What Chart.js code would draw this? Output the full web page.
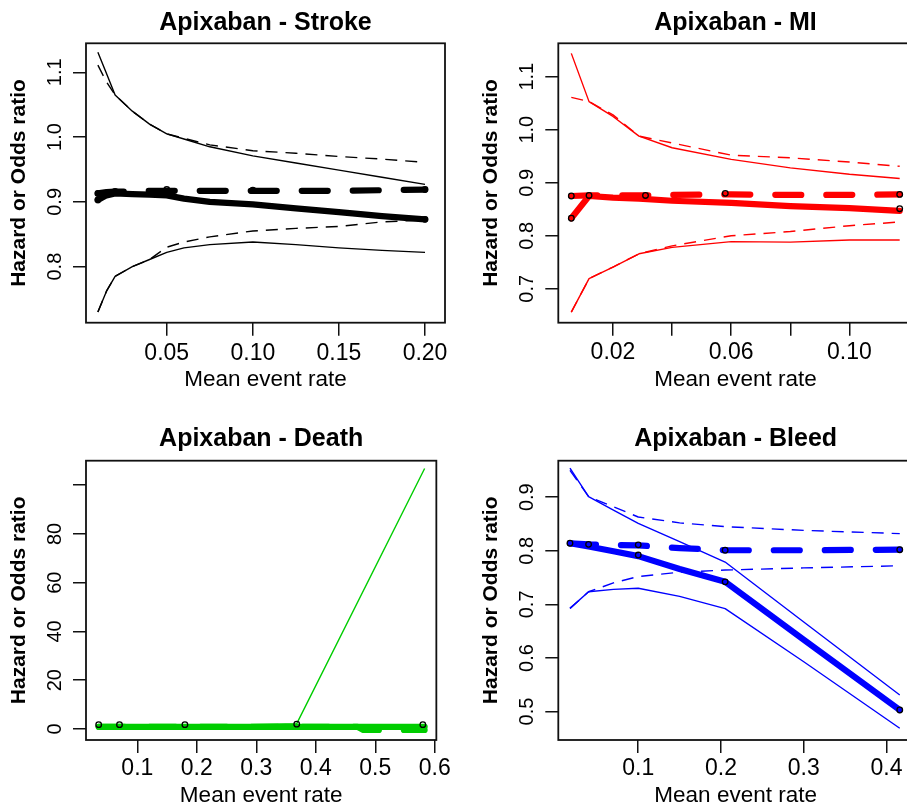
<!DOCTYPE html>
<html>
<head>
<meta charset="utf-8">
<script src="https://cdn.jsdelivr.net/npm/chart.js@4.4.1/dist/chart.umd.min.js"></script>
<style>
html,body{margin:0;padding:0;background:#fff;width:907px;height:808px;overflow:hidden;position:relative}
canvas{position:absolute;display:block}
</style>
</head>
<body>
<canvas id="cStroke"></canvas>
<canvas id="cMI"></canvas>
<canvas id="cDeath"></canvas>
<canvas id="cBleed"></canvas>
<script>
// ---------------- DATA ----------------
// Stroke
const strokeX           = [0.01, 0.015, 0.02, 0.03, 0.04, 0.05, 0.06, 0.075, 0.10, 0.125, 0.15, 0.175, 0.20];
const strokeUpperSolid  = [1.131, 1.098, 1.065, 1.040, 1.020, 1.005, 0.997, 0.985, 0.971, 0.960, 0.949, 0.938, 0.927];
const strokeUpperDashed = [1.111, 1.085, 1.065, 1.040, 1.020, 1.005, 0.998, 0.988, 0.979, 0.975, 0.970, 0.966, 0.961];
const strokeEstimate    = [0.903, 0.910, 0.913, 0.912, 0.911, 0.910, 0.905, 0.900, 0.896, 0.890, 0.884, 0.878, 0.873];
const strokeConstant    = [0.913, 0.915, 0.916, 0.916, 0.917, 0.917, 0.917, 0.917, 0.917, 0.917, 0.917, 0.918, 0.919];
const strokeLowerDashed = [0.730, 0.762, 0.785, 0.800, 0.811, 0.830, 0.838, 0.846, 0.855, 0.859, 0.862, 0.869, 0.872];
const strokeLowerSolid  = [0.730, 0.762, 0.785, 0.800, 0.811, 0.822, 0.829, 0.834, 0.838, 0.834, 0.829, 0.825, 0.822];
const strokeMarkX       = [0.01, 0.01, 0.02, 0.05, 0.10, 0.20, 0.20];
const strokeMarkY       = [0.913, 0.903, 0.916, 0.919, 0.918, 0.919, 0.873];
const strokeXTicks      = [0.05, 0.10, 0.15, 0.20];
const strokeXLabels     = ["0.05", "0.10", "0.15", "0.20"];
const strokeYTicks      = [0.8, 0.9, 1.0, 1.1];
const strokeYLabels     = ["0.8", "0.9", "1.0", "1.1"];

// MI
const miX           = [0.0059, 0.0119, 0.02, 0.0288, 0.04, 0.06, 0.08, 0.10, 0.117];
const miUpperSolid  = [1.144, 1.053, 1.025, 0.988, 0.966, 0.944, 0.928, 0.916, 0.908];
const miUpperDashed = [1.061, 1.053, 1.028, 0.988, 0.975, 0.952, 0.947, 0.939, 0.931];
const miEstimate    = [0.833, 0.875, 0.872, 0.870, 0.866, 0.862, 0.856, 0.852, 0.847];
const miConstant    = [0.875, 0.876, 0.876, 0.876, 0.877, 0.878, 0.877, 0.877, 0.878];
const miLowerDashed = [0.656, 0.719, 0.741, 0.766, 0.781, 0.800, 0.808, 0.819, 0.826];
const miLowerSolid  = [0.656, 0.719, 0.741, 0.766, 0.778, 0.789, 0.788, 0.792, 0.792];
const miMarkX       = [0.0059, 0.0059, 0.0119, 0.031, 0.058, 0.117, 0.117];
const miMarkY       = [0.875, 0.833, 0.876, 0.876, 0.880, 0.878, 0.851];
const miXTicks      = [0.02, 0.04, 0.06, 0.08, 0.10];
const miXLabels     = ["0.02", "", "0.06", "", "0.10"];
const miYTicks      = [0.7, 0.8, 0.9, 1.0, 1.1];
const miYLabels     = ["0.7", "0.8", "0.9", "1.0", "1.1"];

// Death
const deathX           = [0.035, 0.07, 0.18, 0.37, 0.47, 0.48, 0.583];
const deathEstimate    = [0.9, 0.9, 0.9, 0.9, 0.9, 0.9, 0.9];
const deathConstant    = [0.9, 0.9, 0.9, 0.9, 0.9, -0.4, -0.4];
const deathLowerSolid  = [0.7, 0.7, 0.7, 0.7, 0.6, 0.0, 0.0];
const deathLowerDashed = [0.7, 0.7, 0.7, 0.7, 0.6, 0.0, 0.0];
const deathUpperX      = [0.035, 0.18, 0.368, 0.583];
const deathUpperSolid  = [1.2, 1.2, 2.2, 106.8];
const deathUpperDashed = [1.2, 1.2, 1.4, 1.6];
const deathMarkX       = [0.035, 0.07, 0.18, 0.368, 0.58];
const deathMarkY       = [1.8, 1.8, 1.8, 2.0, 1.8];
const deathXTicks      = [0.1, 0.2, 0.3, 0.4, 0.5, 0.6];
const deathXLabels     = ["0.1", "0.2", "0.3", "0.4", "0.5", "0.6"];
const deathYTicks      = [0, 20, 40, 60, 80, 100];
const deathYLabels     = ["0", "20", "40", "60", "80", ""];

// Bleed
const bleedX           = [0.0175, 0.04, 0.07, 0.1, 0.15, 0.205, 0.3, 0.416];
const bleedUpperSolid  = [0.954, 0.901, 0.876, 0.851, 0.817, 0.779, 0.667, 0.531];
const bleedUpperDashed = [0.950, 0.901, 0.882, 0.863, 0.852, 0.845, 0.838, 0.832];
const bleedConstant    = [0.814, 0.812, 0.811, 0.810, 0.805, 0.801, 0.801, 0.802];
const bleedEstimate    = [0.814, 0.808, 0.799, 0.790, 0.766, 0.742, 0.634, 0.503];
const bleedLowerDashed = [0.6925, 0.7235, 0.740, 0.752, 0.760, 0.764, 0.768, 0.772];
const bleedLowerSolid  = [0.6925, 0.7235, 0.728, 0.730, 0.715, 0.692, 0.593, 0.469];
const bleedMarkX       = [0.0175, 0.04, 0.1, 0.1, 0.205, 0.205, 0.416, 0.416];
const bleedMarkY       = [0.814, 0.812, 0.811, 0.792, 0.801, 0.742, 0.802, 0.503];
const bleedXTicks      = [0.1, 0.2, 0.3, 0.4];
const bleedXLabels     = ["0.1", "0.2", "0.3", "0.4"];
const bleedYTicks      = [0.5, 0.6, 0.7, 0.8, 0.9];
const bleedYLabels     = ["0.5", "0.6", "0.7", "0.8", "0.9"];

// ---------------- RENDER ----------------
const FONT = "'Liberation Sans', Arial, Helvetica, sans-serif";
Chart.defaults.font.family = FONT;

function pts(xs, ys) { return xs.map((x, i) => ({ x: x, y: ys[i] })); }

function lineDs(data, color, width, dash, order, cap) {
  return {
    type: 'line', data: data, borderColor: color, borderWidth: width,
    borderDash: dash, borderCapStyle: cap || 'butt', borderJoinStyle: 'round',
    pointRadius: 0, pointHoverRadius: 0, tension: 0, fill: false, order: order
  };
}
function markDs(data) {
  return {
    type: 'line', data: data, showLine: false, pointRadius: 2.8, pointHoverRadius: 2.8,
    pointStyle: 'circle', pointBorderColor: '#000', pointBackgroundColor: 'rgba(0,0,0,0)',
    pointBorderWidth: 1.3, order: 0
  };
}

const THIN = 1.4, THICK = 6.2;
const THIN_DASH = [12, 8], THICK_DASH = [26, 25];

const panels = [
  { id: 'cStroke', title: 'Apixaban - Stroke', color: '#000000',
    canvas: { x: 0, y: 0, w: 453, h: 404 }, box: { l: 86, t: 43.3, r: 445, b: 322.7 },
    titleMid: 23, xTickMid: 353.5, xTitleMid: 379.5,
    xMin: 0.0031, xMax: 0.2116, yMin: 0.7134, yMax: 1.1448,
    xTicks: strokeXTicks, xLabels: strokeXLabels, yTicks: strokeYTicks, yLabels: strokeYLabels,
    sets: [
      [pts(strokeX, strokeUpperSolid), 'thin'], [pts(strokeX, strokeLowerSolid), 'thin'],
      [pts(strokeX, strokeUpperDashed), 'thindash'], [pts(strokeX, strokeLowerDashed), 'thindash'],
      [pts(strokeX, strokeConstant), 'thickdash'], [pts(strokeX, strokeEstimate), 'thick'],
      [pts(strokeMarkX, strokeMarkY), 'mark']
    ] },
  { id: 'cMI', title: 'Apixaban - MI', color: '#ff0000',
    canvas: { x: 453, y: 0, w: 470, h: 404 }, box: { l: 558.3, t: 43.3, r: 912.7, b: 322.7 },
    titleMid: 23, xTickMid: 352.5, xTitleMid: 379.5,
    xMin: 0.0015, xMax: 0.1214, yMin: 0.636, yMax: 1.163,
    xTicks: miXTicks, xLabels: miXLabels, yTicks: miYTicks, yLabels: miYLabels,
    sets: [
      [pts(miX, miUpperSolid), 'thin'], [pts(miX, miLowerSolid), 'thin'],
      [pts(miX, miUpperDashed), 'thindash'], [pts(miX, miLowerDashed), 'thindash'],
      [pts(miX, miConstant), 'thickdash'], [pts(miX, miEstimate), 'thick'],
      [pts(miMarkX, miMarkY), 'mark']
    ] },
  { id: 'cDeath', title: 'Apixaban - Death', color: '#00cd00',
    canvas: { x: 0, y: 404, w: 453, h: 410 }, box: { l: 86, t: 460.7, r: 439.3, b: 740 },
    titleMid: 439.5, xTickMid: 769, xTitleMid: 795.5,
    xMin: 0.0137, xMax: 0.6027, yMin: -4.5, yMax: 110,
    xTicks: deathXTicks, xLabels: deathXLabels, yTicks: deathYTicks, yLabels: deathYLabels,
    sets: [
      [pts(deathUpperX, deathUpperSolid), 'thin'], [pts(deathX, deathLowerSolid), 'thin'],
      [pts(deathUpperX, deathUpperDashed), 'thindash'], [pts(deathX, deathLowerDashed), 'thindash'],
      [pts(deathX, deathConstant), 'thickdash'], [pts(deathX, deathEstimate), 'thick'],
      [pts(deathMarkX, deathMarkY), 'mark']
    ] },
  { id: 'cBleed', title: 'Apixaban - Bleed', color: '#0000ff',
    canvas: { x: 453, y: 404, w: 470, h: 410 }, box: { l: 558.3, t: 460.7, r: 913, b: 740 },
    titleMid: 439.5, xTickMid: 769, xTitleMid: 795.5,
    xMin: 0.0034, xMax: 0.432, yMin: 0.447, yMax: 0.968,
    xTicks: bleedXTicks, xLabels: bleedXLabels, yTicks: bleedYTicks, yLabels: bleedYLabels,
    sets: [
      [pts(bleedX, bleedUpperSolid), 'thin'], [pts(bleedX, bleedLowerSolid), 'thin'],
      [pts(bleedX, bleedUpperDashed), 'thindash'], [pts(bleedX, bleedLowerDashed), 'thindash'],
      [pts(bleedX, bleedConstant), 'thickdash'], [pts(bleedX, bleedEstimate), 'thick'],
      [pts(bleedMarkX, bleedMarkY), 'mark']
    ] }
];

function makeChart(p) {
  const cv = document.getElementById(p.id);
  cv.width = p.canvas.w; cv.height = p.canvas.h;
  cv.style.left = p.canvas.x + 'px'; cv.style.top = p.canvas.y + 'px';
  cv.style.width = p.canvas.w + 'px'; cv.style.height = p.canvas.h + 'px';

  const YW = 86, TICKLEN = 13;
  const titleSize = 25, titleLH = titleSize * 1.2;
  const xTickSize = 23, xTickLH = xTickSize * 1.2;
  const xTitleSize = 22.5, xTitleLH = xTitleSize * 1.2;
  const yTitleSize = 21, yTitleLH = yTitleSize * 1.2;

  const padLeft = p.box.l - YW - p.canvas.x;
  const padRight = p.canvas.x + p.canvas.w - p.box.r;
  const tTop = p.titleMid - p.canvas.y - titleLH / 2;
  const tBottom = p.box.t - p.titleMid - titleLH / 2;
  const xH = p.xTitleMid + xTitleLH / 2 - p.box.b;
  const padBottom = p.canvas.y + p.canvas.h - (p.box.b + xH);
  const xTickPad = p.xTickMid - p.box.b - TICKLEN - xTickLH / 2;
  const yTitlePad = (YW - 67) - yTitleLH / 2;

  const datasets = p.sets.map(([data, kind]) => {
    if (kind === 'thin') return lineDs(data, p.color, THIN, [], 2);
    if (kind === 'thindash') return lineDs(data, p.color, THIN, THIN_DASH, 2);
    if (kind === 'thickdash') return lineDs(data, p.color, THICK, THICK_DASH, 1, 'round');
    if (kind === 'thick') return lineDs(data, p.color, THICK, [], 1, 'round');
    return markDs(data);
  });

  const frame = {
    id: 'rframe',
    afterDraw(chart) {
      const ctx = chart.ctx, a = chart.chartArea, y = chart.scales.y;
      ctx.save();
      ctx.strokeStyle = '#111';
      ctx.lineWidth = 1.8;
      ctx.strokeRect(a.left, a.top, a.right - a.left, a.bottom - a.top);
      ctx.fillStyle = '#000';
      ctx.font = '20px ' + FONT;
      ctx.textAlign = 'center';
      ctx.textBaseline = 'middle';
      p.yTicks.forEach((v, i) => {
        const lbl = p.yLabels[i];
        if (!lbl) return;
        const py = y.getPixelForValue(v);
        ctx.save();
        ctx.translate(a.left - 31, py);
        ctx.rotate(-Math.PI / 2);
        ctx.fillText(lbl, 0, 0);
        ctx.restore();
      });
      ctx.restore();
    }
  };

  const gridOpts = { display: true, drawOnChartArea: false, drawTicks: true, tickLength: TICKLEN, color: '#111', lineWidth: 1.5 };

  return new Chart(cv, {
    type: 'line',
    data: { datasets: datasets },
    options: {
      responsive: false, animation: false, events: [],
      layout: { padding: { left: padLeft, right: padRight, top: 0, bottom: padBottom } },
      plugins: {
        legend: { display: false },
        tooltip: { enabled: false },
        title: {
          display: true, text: p.title, color: '#000', fullSize: false,
          font: { family: FONT, size: titleSize, weight: 'bold', lineHeight: 1.2 },
          padding: { top: tTop, bottom: tBottom }
        }
      },
      scales: {
        x: {
          type: 'linear', min: p.xMin, max: p.xMax,
          afterBuildTicks: (s) => { s.ticks = p.xTicks.map(v => ({ value: v })); },
          afterFit: (s) => { s.height = xH; },
          grid: gridOpts,
          border: { display: false },
          ticks: {
            autoSkip: false, maxRotation: 0, minRotation: 0, padding: xTickPad, color: '#000',
            font: { family: FONT, size: xTickSize, lineHeight: 1.2 },
            callback: (v) => {
              const i = p.xTicks.findIndex(t => Math.abs(t - v) < 1e-9);
              return i >= 0 ? p.xLabels[i] : '';
            }
          },
          title: {
            display: true, text: 'Mean event rate', color: '#000',
            font: { family: FONT, size: xTitleSize, lineHeight: 1.2 },
            padding: { top: 0, bottom: 0 }
          }
        },
        y: {
          type: 'linear', min: p.yMin, max: p.yMax,
          afterBuildTicks: (s) => { s.ticks = p.yTicks.map(v => ({ value: v })); },
          afterFit: (s) => { s.width = YW; },
          grid: gridOpts,
          border: { display: false },
          ticks: { display: false, autoSkip: false },
          title: {
            display: true, text: 'Hazard or Odds ratio', color: '#000',
            font: { family: FONT, size: yTitleSize, weight: 'bold', lineHeight: 1.2 },
            padding: { top: yTitlePad, bottom: 0 }
          }
        }
      }
    },
    plugins: [frame]
  });
}

panels.forEach(makeChart);
</script>
</body>
</html>
